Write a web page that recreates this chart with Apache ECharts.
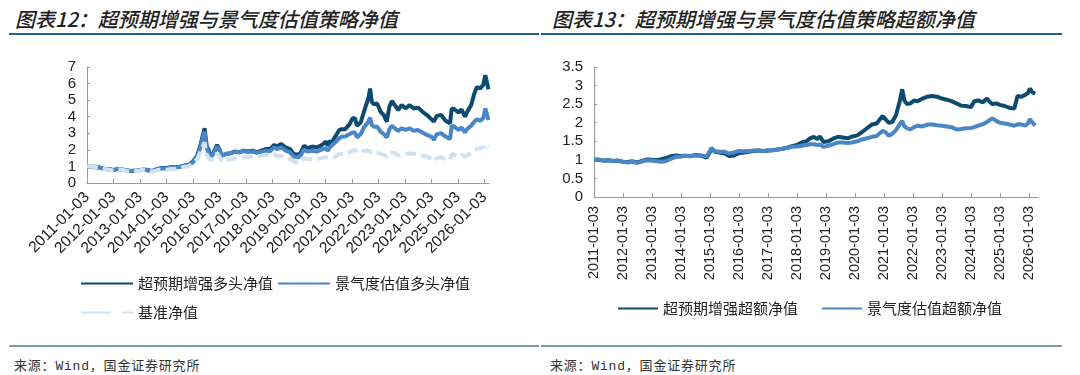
<!DOCTYPE html>
<html>
<head>
<meta charset="utf-8">
<script src="https://cdn.jsdelivr.net/npm/echarts@6/dist/echarts.min.js"></script>
<style>
    html, body { margin: 0; padding: 0; background: #fff; }
    .page { position: relative; width: 1080px; height: 375px; overflow: hidden; }
    .title { position: absolute; top: 4px; font-family: "Noto Sans CJK SC", sans-serif; font-size: 20px;
        font-weight: 500; font-style: italic; color: #222; white-space: nowrap; }
    .rule { position: absolute; height: 2px; }
    .src { position: absolute; top: 355px; font-family: "Liberation Mono", "Noto Sans CJK SC", monospace;
        font-size: 13px; letter-spacing: 0.8px; color: #333; white-space: nowrap; }
    #chart { position: absolute; left: 0; top: 0; width: 1080px; height: 375px; }
</style>
</head>
<body>
<div class="page">
    <div class="title" style="left:15px">图表12：超预期增强与景气度估值策略净值</div>
    <div class="title" style="left:552px">图表13：超预期增强与景气度估值策略超额净值</div>
    <div class="rule" style="left:9px;width:530px;top:33px;background:#1f5f8b"></div>
    <div class="rule" style="left:541px;width:521px;top:33px;background:#1f5f8b"></div>
    <div class="rule" style="left:9px;width:530px;top:345px;background:#7f9cae"></div>
    <div class="rule" style="left:541px;width:521px;top:345px;background:#7f9cae"></div>
    <div class="src" style="left:14px">来源：Wind，国金证券研究所</div>
    <div class="src" style="left:550px">来源：Wind，国金证券研究所</div>
    <div id="chart"></div>
</div>
<script>
// 图表12 数据：多头净值
var leftDates = [
    '2011-01-03', '2011-03-01', '2011-05-01', '2011-07-01', '2011-09-01', '2011-11-01',
    '2012-01-01', '2012-03-01', '2012-05-01', '2012-07-01', '2012-09-01', '2012-12-01',
    '2013-02-01', '2013-04-01', '2013-06-15', '2013-09-01', '2013-11-01',
    '2014-01-01', '2014-03-01', '2014-05-01', '2014-07-01', '2014-09-01', '2014-11-01',
    '2015-01-01', '2015-03-01', '2015-04-15', '2015-06-10', '2015-07-10', '2015-08-01', '2015-08-25',
    '2015-10-01', '2015-12-01', '2016-01-10', '2016-02-01', '2016-04-01', '2016-06-01', '2016-08-01',
    '2016-10-01', '2016-12-01', '2017-02-01', '2017-04-01', '2017-06-01', '2017-08-01', '2017-10-01',
    '2017-12-01', '2018-01-25', '2018-03-01', '2018-05-01', '2018-07-01', '2018-09-01', '2018-10-20',
    '2018-12-25', '2019-02-01', '2019-03-10', '2019-05-01', '2019-07-01', '2019-09-01', '2019-11-01',
    '2020-01-10', '2020-02-05', '2020-03-01', '2020-03-25', '2020-05-01', '2020-07-10', '2020-08-15',
    '2020-10-01', '2020-12-01', '2021-01-10', '2021-02-15', '2021-03-10', '2021-05-01', '2021-06-15',
    '2021-08-15', '2021-09-10', '2021-10-01', '2021-11-01', '2021-12-15', '2022-02-01', '2022-03-15',
    '2022-04-26', '2022-06-01', '2022-07-05', '2022-08-15', '2022-10-01', '2022-11-15', '2023-01-15',
    '2023-03-01', '2023-05-01', '2023-07-01', '2023-09-01', '2023-11-01', '2024-01-01', '2024-02-05',
    '2024-03-15', '2024-05-15', '2024-07-15', '2024-09-15', '2024-10-08', '2024-11-15', '2025-01-10',
    '2025-02-20', '2025-04-08', '2025-05-15', '2025-07-01', '2025-08-15', '2025-09-20', '2025-11-01',
    '2025-12-15', '2026-01-15', '2026-02-05', '2026-02-27'
];
var surpriseLong = [
    1.00, 1.02, 0.95, 0.93, 0.85, 0.83,
    0.78, 0.85, 0.82, 0.75, 0.73, 0.75,
    0.80, 0.80, 0.72, 0.85, 0.90,
    0.90, 0.95, 0.95, 0.98, 1.05, 1.08,
    1.30, 1.65, 2.30, 3.30, 2.20, 2.05, 1.60,
    1.75, 2.30, 1.95, 1.65, 1.75, 1.80, 1.90,
    1.85, 1.95, 1.90, 1.95, 1.85, 1.95, 2.05,
    2.05, 2.30, 2.20, 2.35, 2.15, 2.05, 1.75,
    1.70, 1.85, 2.25, 2.10, 2.20, 2.15, 2.25,
    2.50, 2.25, 2.55, 2.40, 2.70, 3.20, 3.25,
    3.25, 3.55, 3.90, 3.90, 3.45, 3.65, 4.30,
    5.10, 5.70, 4.90, 4.75, 4.80, 4.30, 4.10,
    3.70, 4.60, 4.95, 4.70, 4.40, 4.70, 4.50,
    4.70, 4.50, 4.55, 4.30, 4.10, 3.85, 3.70,
    4.05, 4.10, 3.75, 3.60, 4.50, 4.45, 4.25,
    4.45, 4.00, 4.35, 4.70, 5.40, 5.80, 5.70,
    5.90, 6.50, 6.40, 5.65
];
var boomValueLong = [
    1.00, 1.02, 0.95, 0.93, 0.85, 0.82,
    0.78, 0.85, 0.82, 0.75, 0.72, 0.75,
    0.80, 0.78, 0.72, 0.83, 0.88,
    0.88, 0.93, 0.93, 0.96, 1.02, 1.05,
    1.25, 1.60, 2.20, 3.10, 2.10, 2.00, 1.55,
    1.70, 2.20, 1.90, 1.65, 1.75, 1.80, 1.88,
    1.85, 1.92, 1.88, 1.90, 1.82, 1.88, 1.95,
    1.92, 2.15, 2.05, 2.15, 1.95, 1.85, 1.60,
    1.55, 1.70, 2.00, 1.90, 1.95, 1.90, 2.00,
    2.10, 1.95, 2.15, 2.05, 2.40, 2.70, 2.80,
    2.80, 2.95, 3.05, 3.05, 2.75, 2.95, 3.35,
    3.70, 3.95, 3.50, 3.40, 3.40, 3.10, 2.95,
    2.75, 3.25, 3.45, 3.30, 3.15, 3.30, 3.20,
    3.30, 3.15, 3.20, 3.05, 2.90, 2.80, 2.60,
    2.95, 3.00, 2.80, 2.65, 3.45, 3.40, 3.20,
    3.35, 3.05, 3.30, 3.45, 3.70, 3.85, 3.75,
    3.90, 4.50, 4.40, 3.80
];
var benchmark = [
    1.00, 1.02, 0.95, 0.92, 0.84, 0.80,
    0.76, 0.83, 0.80, 0.73, 0.70, 0.72,
    0.80, 0.76, 0.68, 0.78, 0.82,
    0.80, 0.85, 0.85, 0.90, 0.98, 1.00,
    1.20, 1.45, 1.90, 2.45, 1.70, 1.65, 1.40,
    1.45, 1.80, 1.55, 1.30, 1.40, 1.42, 1.48,
    1.48, 1.55, 1.55, 1.60, 1.58, 1.65, 1.70,
    1.65, 1.72, 1.62, 1.65, 1.50, 1.45, 1.30,
    1.22, 1.30, 1.50, 1.45, 1.45, 1.45, 1.50,
    1.55, 1.45, 1.55, 1.45, 1.55, 1.75, 1.75,
    1.75, 1.85, 1.95, 2.00, 1.85, 1.85, 1.95,
    1.95, 2.00, 1.85, 1.85, 1.85, 1.75, 1.70,
    1.60, 1.80, 1.85, 1.80, 1.65, 1.70, 1.75,
    1.80, 1.75, 1.75, 1.65, 1.60, 1.45, 1.35,
    1.50, 1.55, 1.45, 1.40, 1.75, 1.70, 1.60,
    1.70, 1.60, 1.70, 1.80, 1.95, 2.05, 2.10,
    2.15, 2.35, 2.30, 2.15
];

// 图表13 数据：超额净值
var rightDates = [
    '2011-01-03', '2011-03-01', '2011-05-01', '2011-07-01', '2011-09-01', '2011-11-01',
    '2012-01-01', '2012-03-01', '2012-05-01', '2012-07-01', '2012-09-01', '2012-11-01',
    '2013-01-01', '2013-03-01', '2013-05-01', '2013-07-01', '2013-09-01', '2013-11-01',
    '2014-01-01', '2014-03-01', '2014-05-01', '2014-07-01', '2014-09-01', '2014-11-20',
    '2015-01-05', '2015-01-20', '2015-03-01', '2015-05-01', '2015-07-01', '2015-09-01', '2015-11-01',
    '2016-01-01', '2016-03-01', '2016-05-01', '2016-07-01', '2016-09-01', '2016-11-01',
    '2017-01-01', '2017-03-01', '2017-05-01', '2017-07-01', '2017-09-01', '2017-11-01',
    '2018-01-01', '2018-03-01', '2018-05-01', '2018-06-15', '2018-08-01', '2018-09-15', '2018-10-20',
    '2018-12-01', '2019-02-01', '2019-04-01', '2019-06-01', '2019-08-01', '2019-10-01', '2019-12-01',
    '2020-02-01', '2020-04-01', '2020-06-01', '2020-08-01', '2020-10-01', '2020-12-15',
    '2021-01-20', '2021-03-01', '2021-04-15', '2021-06-01', '2021-07-15', '2021-08-20', '2021-09-15',
    '2021-10-20', '2021-12-01', '2022-01-15', '2022-03-01', '2022-05-01', '2022-07-01', '2022-09-01',
    '2022-11-01', '2023-01-01', '2023-03-01', '2023-05-01', '2023-07-01', '2023-09-01', '2023-11-01',
    '2024-01-01', '2024-02-15', '2024-04-01', '2024-06-01', '2024-07-20', '2024-09-01', '2024-10-01',
    '2024-11-15', '2025-01-01', '2025-03-01', '2025-05-01', '2025-07-01', '2025-08-10', '2025-10-01',
    '2025-11-15', '2025-12-20', '2026-01-15', '2026-02-15', '2026-03-20'
];
var surpriseExcess = [
    1.00, 1.00, 0.98, 0.99, 0.97, 0.98,
    0.95, 0.94, 0.96, 0.93, 0.97, 1.01,
    1.00, 0.99, 1.02, 1.05, 1.10, 1.12,
    1.10, 1.11, 1.10, 1.13, 1.12, 1.06,
    1.22, 1.31, 1.22, 1.20, 1.18, 1.10, 1.12,
    1.18, 1.20, 1.22, 1.24, 1.25, 1.24,
    1.25, 1.26, 1.28, 1.30, 1.33, 1.37,
    1.40, 1.47, 1.50, 1.58, 1.62, 1.56, 1.63,
    1.48, 1.50, 1.57, 1.62, 1.60, 1.58, 1.63,
    1.66, 1.75, 1.85, 1.95, 1.98, 2.18,
    2.10, 2.00, 2.02, 2.20, 2.55, 2.90, 2.60,
    2.50, 2.52, 2.60, 2.58, 2.65, 2.70, 2.72,
    2.70, 2.65, 2.62, 2.58, 2.52, 2.46, 2.45,
    2.42, 2.58, 2.60, 2.55, 2.65, 2.55, 2.50,
    2.52, 2.48, 2.45, 2.40, 2.38, 2.72, 2.70,
    2.75, 2.80, 2.92, 2.82, 2.78
];
var boomValueExcess = [
    1.00, 1.01, 0.98, 0.99, 0.97, 0.98,
    0.95, 0.93, 0.95, 0.92, 0.96, 0.99,
    0.98, 0.96, 0.95, 0.97, 1.03, 1.08,
    1.09, 1.11, 1.10, 1.12, 1.12, 1.09,
    1.25, 1.32, 1.24, 1.22, 1.22, 1.17, 1.20,
    1.24, 1.23, 1.24, 1.25, 1.25, 1.24,
    1.25, 1.26, 1.28, 1.30, 1.32, 1.35,
    1.36, 1.38, 1.40, 1.42, 1.42, 1.40, 1.41,
    1.35, 1.38, 1.42, 1.47, 1.47, 1.45, 1.47,
    1.50, 1.55, 1.58, 1.62, 1.64, 1.78,
    1.75, 1.65, 1.70, 1.80, 1.95, 2.05, 1.90,
    1.85, 1.82, 1.88, 1.92, 1.90, 1.95, 1.95,
    1.93, 1.92, 1.90, 1.88, 1.82, 1.83, 1.85,
    1.86, 1.88, 1.92, 1.96, 2.02, 2.08, 2.12,
    2.05, 2.00, 1.98, 1.95, 1.92, 1.96, 1.95,
    1.92, 1.98, 2.10, 2.00, 1.92
];
var yearTicks = [2011, 2012, 2013, 2014, 2015, 2016, 2017, 2018, 2019, 2020, 2021, 2022, 2023, 2024, 2025, 2026];

var darkBlue = '#0c4a70';
var midBlue = '#4a86c5';
var lightBlue = '#d0e1f1';
var numFont = 'Liberation Sans';
var cjkFont = 'Noto Sans CJK SC';

// 日期 -> 年份小数
function toYear(s) {
    var p = s.split('-');
    var y = +p[0], m = +p[1], d = +p[2];
    return y + (m - 1) / 12 + (d - 3) / 365;
}
function pairs(dates, vals) {
    var res = [];
    for (var i = 0; i < dates.length; i++) {
        res.push([toYear(dates[i]), vals[i]]);
    }
    return res;
}

function xAxisOf(gridIndex, max, rotate, fontSize, margin) {
    return {
        type: 'value',
        gridIndex: gridIndex,
        min: 2011,
        max: max,
        interval: 1,
        axisLine: { show: true, lineStyle: { color: '#999', width: 1 } },
        axisTick: { show: true, inside: true, length: 4, customValues: yearTicks, lineStyle: { color: '#999' } },
        axisLabel: {
            customValues: yearTicks,
            rotate: rotate,
            margin: margin,
            hideOverlap: false,
            fontFamily: numFont,
            fontSize: fontSize,
            color: '#222',
            formatter: function (v) { return Math.round(v) + '-01-03'; }
        },
        splitLine: { show: false }
    };
}
function yAxisOf(gridIndex, max, interval) {
    return {
        type: 'value',
        gridIndex: gridIndex,
        min: 0,
        max: max,
        interval: interval,
        axisLine: { show: true, lineStyle: { color: '#999', width: 1 } },
        axisTick: { show: true, inside: true, length: 3, lineStyle: { color: '#999' } },
        axisLabel: { fontFamily: numFont, fontSize: 15, color: '#222', margin: 11 },
        splitLine: { show: false }
    };
}
function lineSeries(name, xi, data, color, dashed) {
    return {
        name: name,
        type: 'line',
        xAxisIndex: xi,
        yAxisIndex: xi,
        data: data,
        symbol: 'circle',
        showSymbol: false,
        smooth: false,
        lineStyle: { color: color, width: 4, type: dashed ? [11, 5] : 'solid' },
        itemStyle: { color: color },
        emphasis: { disabled: true }
    };
}

var myChart = echarts.init(document.getElementById('chart'));
var legendText = { fontFamily: cjkFont, fontSize: 15, color: '#222' };
// 图例只画线段，不画圆点
var legendBase = { padding: 0, itemHeight: 14, textStyle: legendText, itemStyle: { opacity: 0 }, selectedMode: false };
var option = {
    animation: false,
    grid: [
        { left: 87, top: 67, width: 402, height: 116 },
        { left: 594, top: 67, width: 444, height: 130 }
    ],
    xAxis: [xAxisOf(0, 2026.17, 45, 15.5, 12), xAxisOf(1, 2026.31, 90, 14.5, 9)],
    yAxis: [yAxisOf(0, 7, 1), yAxisOf(1, 3.5, 0.5)],
    legend: [
        Object.assign({}, legendBase, {
            left: 80, top: 276, itemWidth: 52, itemGap: 4,
            data: ['超预期增强多头净值', '景气度估值多头净值']
        }),
        Object.assign({}, legendBase, {
            left: 80, top: 305, itemWidth: 52,
            data: [{ name: '基准净值', lineStyle: { type: [30, 11] } }]
        }),
        Object.assign({}, legendBase, {
            left: 617, top: 301, itemWidth: 40, itemGap: 23,
            data: ['超预期增强超额净值', '景气度估值超额净值']
        })
    ],
    series: [
        lineSeries('超预期增强多头净值', 0, pairs(leftDates, surpriseLong), darkBlue, false),
        lineSeries('景气度估值多头净值', 0, pairs(leftDates, boomValueLong), midBlue, false),
        lineSeries('基准净值', 0, pairs(leftDates, benchmark), lightBlue, true),
        lineSeries('超预期增强超额净值', 1, pairs(rightDates, surpriseExcess), darkBlue, false),
        lineSeries('景气度估值超额净值', 1, pairs(rightDates, boomValueExcess), midBlue, false)
    ]
};
myChart.setOption(option);

window.addEventListener('resize', function () {
    myChart.resize();
});
</script>
</body>
</html>
